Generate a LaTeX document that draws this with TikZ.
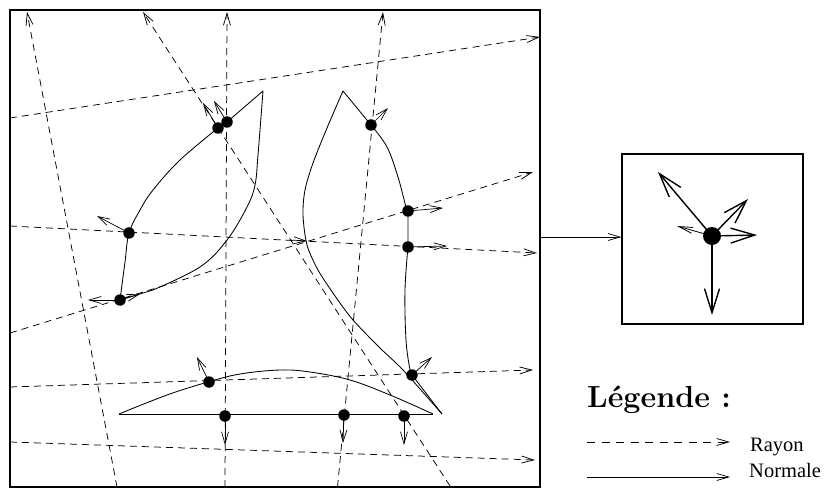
\documentclass[tikz,border=0pt]{standalone}
\usepackage{fontspec}
\newfontfamily\legfont{Liberation Serif}
\usetikzlibrary{arrows.meta}
\begin{document}
\begin{tikzpicture}[x=1pt,y=-1pt,
  ray/.style={line width=0.75pt, dash pattern=on 7pt off 5pt, -{Straight Barb[length=12pt,width=7pt]}},
  nrm/.style={line width=0.7pt, -{Straight Barb[length=12pt,width=7pt]}},
  shp/.style={line width=0.85pt, line join=miter},
  dot/.style={circle, fill, inner sep=0pt, minimum size=11.5pt},
  bigdot/.style={circle, fill, inner sep=0pt, minimum size=18pt},
  bignrm/.style={line width=1.4pt, -{Straight Barb[length=24pt,width=15pt]}},
  smallnrm/.style={line width=0.8pt, -{Straight Barb[length=14pt,width=6pt]}}]
\useasboundingbox (0,0) rectangle (825,489);
% frame
\draw[line width=1.4pt] (10,10) rectangle (540,487);
% ray end points
\coordinate (rA0) at (117,487); \coordinate (rA1) at (27,12);
\coordinate (rB0) at (450,486); \coordinate (rB1) at (143,12);
\coordinate (rC0) at (225,487); \coordinate (rC1) at (227,12);
\coordinate (rD0) at (337.5,487); \coordinate (rD1) at (383,12);
\coordinate (ra0) at (10,118); \coordinate (ra1) at (540,37);
\coordinate (rb0) at (10,226); \coordinate (rb1) at (537,253);
\coordinate (rc0) at (10,333); \coordinate (rc1) at (533,172);
\coordinate (rd0) at (10,387); \coordinate (rd1) at (533,370);
\coordinate (re0) at (10,442); \coordinate (re1) at (535,460);
\foreach \r in {rA,rB,rC,rD,ra,rb,rc,rd,re}{\draw[ray] (\r0) -- (\r1);}
% small intermediate arrow marks on rays
\coordinate (mc0) at (120,300); \coordinate (mc1) at (140,294);
\coordinate (mb0) at (290,240); \coordinate (mb1) at (307,241);
\draw[nrm] (mc0) -- (mc1);
\draw[nrm] (mb0) -- (mb1);
% shape 1 (left)
\draw[shp] (263,91) -- (227,122) -- (218,128)
  plot[smooth, tension=0.6] coordinates {(218,128) (180,160) (153,190) (140,210) (129,233) (125,262) (120,300)}
  -- (153,290) plot[smooth, tension=0.6] coordinates {(153,290) (200,267) (227,240) (247,207) (255,185) (258,155) (263,91)};
% shape 2 (right)
\draw[shp] (343,91) -- (371,125)
  plot[smooth, tension=0.6] coordinates {(371,125) (387,147) (398,177) (406,207) (408,211)}
  -- (408,247)
  plot[smooth, tension=0.6] coordinates {(408,247) (405,290) (406,340) (410,370) (412,375)}
  -- (442,414);
\draw[shp] plot[smooth, tension=0.5] coordinates {(343,91) (327,128) (313,163) (305,190) (303,215) (307,245) (318,270) (335,296) (353,320) (380,348) (403,370) (442,414)};
% shape 3 (bottom)
\draw[shp] (119,414) -- (433,414);
\draw[shp] plot[smooth, tension=0.6] coordinates {(119,414) (167,395) (208,382) (240,374) (280,370) (310,372) (350,380) (390,395) (433,414)};
% normals tips
\coordinate (n1) at (203,103); \coordinate (n2) at (214,101);
\coordinate (n3) at (97,216); \coordinate (n4) at (88,300);
\coordinate (n5) at (388,108); \coordinate (n6) at (443,208);
\coordinate (n7) at (447,246); \coordinate (n8) at (432,357);
\coordinate (n9) at (197,357); \coordinate (n10) at (225,445);
\coordinate (n11) at (343,443); \coordinate (n12) at (404,445);
% dots
\node[dot] (d1) at (218,128) {};
\node[dot] (d2) at (227,122) {};
\node[dot] (d3) at (129,233) {};
\node[dot] (d4) at (120,300) {};
\node[dot] (d5) at (371,125) {};
\node[dot] (d6) at (408,211) {};
\node[dot] (d7) at (408,247) {};
\node[dot] (d8) at (412,375) {};
\node[dot] (d9) at (209,382) {};
\node[dot] (d10) at (225,416) {};
\node[dot] (d11) at (344,415) {};
\node[dot] (d12) at (404,416) {};
\foreach \i in {1,...,12}{\draw[nrm] (d\i.center) -- (n\i);}
% inset
\node[draw, line width=1.4pt, minimum width=181pt, minimum height=170pt, inner sep=0pt] (inset) at (712.5,239) {};
\coordinate (fr) at (540,237);
\draw[nrm] (fr) -- (fr -| inset.west);
\node[bigdot] (c) at (712,236) {};
\coordinate (i1) at (658,172); \coordinate (i2) at (748,199);
\coordinate (i3) at (757,235); \coordinate (i4) at (712,315);
\coordinate (i5) at (677,226);
\foreach \i in {1,...,4}{\draw[bignrm] (c.center) -- (i\i);}
\draw[smallnrm] (c.center) -- (i5);
% legend
\node[anchor=base west, inner sep=0pt, font=\fontsize{30.5}{36}\selectfont\bfseries] (leg) at (587,407) {Légende :};
\coordinate (l1a) at (587,442); \coordinate (l1b) at (730,442);
\coordinate (l2a) at (587,477); \coordinate (l2b) at (730,477);
\draw[ray, dash pattern=on 8pt off 6.5pt] (l1a) -- (l1b);
\draw[nrm] (l2a) -- (l2b);
\node[anchor=base west, inner sep=0pt, font=\fontsize{20.5}{24}\legfont] (t1) at (750,451) {Rayon};
\node[anchor=base west, inner sep=0pt, font=\fontsize{20.5}{24}\legfont] (t2) at (749,477) {Normale};
\end{tikzpicture}
\end{document}
